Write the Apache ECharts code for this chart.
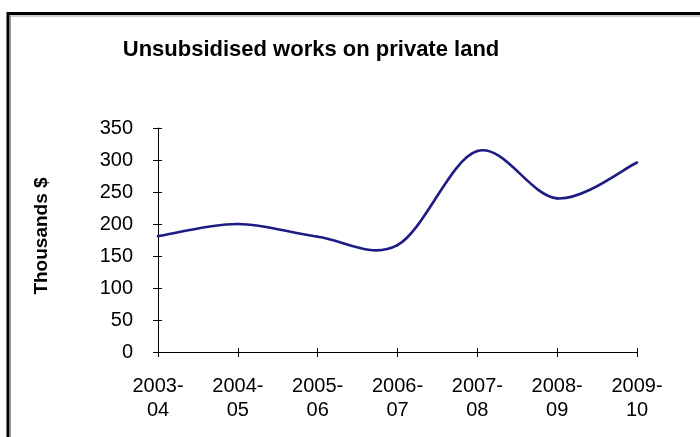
<!DOCTYPE html>
<html><head><meta charset="utf-8">
<script src="https://cdn.jsdelivr.net/npm/echarts@6/dist/echarts.min.js"></script>
<style>html,body{margin:0;padding:0;background:#fff}#c{width:700px;height:437px}</style>
</head><body><div id="c"></div>
<script>
var categories = ['2003-\n04','2004-\n05','2005-\n06','2006-\n07','2007-\n08','2008-\n09','2009-\n10'];
var values = [181, 200, 180, 167, 314, 240, 296];
var yTicks = {min:0, max:350, interval:50};

var chart = echarts.init(document.getElementById('c'));
var font = 'Liberation Sans, Arial, sans-serif';
var axisLine = {show:true, lineStyle:{color:'#000', width:1}};

// Excel-style (Catmull-Rom) smoothed segment between point i and i+1
function renderSeg(params, api) {
  var i = params.dataIndex;
  if (i >= values.length - 1) return null;
  var n = values.length;
  var p = function (j) { j = Math.max(0, Math.min(n - 1, j)); return api.coord([j, values[j]]); };
  var p0 = p(i - 1), p1 = p(i), p2 = p(i + 1), p3 = p(i + 2);
  var c1 = [p1[0] + (p2[0] - p0[0]) / 6, p1[1] + (p2[1] - p0[1]) / 6];
  var c2 = [p2[0] - (p3[0] - p1[0]) / 6, p2[1] - (p3[1] - p1[1]) / 6];
  return {type:'bezierCurve',
    shape:{x1:p1[0], y1:p1[1], cpx1:c1[0], cpy1:c1[1], cpx2:c2[0], cpy2:c2[1], x2:p2[0], y2:p2[1]},
    style:{stroke:'#1c1c84', lineWidth:2.6, fill:null, lineCap:'round'}};
}

chart.setOption({
  animation:false,
  backgroundColor:'#fff',
  graphic:[
    {type:'line', shape:{x1:7, y1:13.5, x2:700, y2:13.5}, style:{stroke:'#000', lineWidth:3}},
    {type:'line', shape:{x1:8, y1:16, x2:700, y2:16}, style:{stroke:'#999', lineWidth:1}},
    {type:'line', shape:{x1:8, y1:12, x2:8, y2:437}, style:{stroke:'#000', lineWidth:3}},
    {type:'line', shape:{x1:10.5, y1:16, x2:10.5, y2:437}, style:{stroke:'#999', lineWidth:1}},
    {type:'text', x:311, y:50, style:{text:'Unsubsidised works on private land', fontFamily:font, fontSize:22, fontWeight:'bold', fill:'#000', align:'center', verticalAlign:'middle'}},
    {type:'text', x:42, y:236, rotation:Math.PI/2, style:{text:'Thousands $', fontFamily:font, fontSize:19, fontWeight:'bold', fill:'#000', align:'center', verticalAlign:'middle'}}
  ],
  grid:{left:158, right:63, top:128, bottom:85},
  xAxis:[
    {type:'category', data:categories, boundaryGap:false,
     axisLine:axisLine, axisTick:{show:true, length:5, lineStyle:{color:'#000'}},
     axisLabel:{fontFamily:font, fontSize:20, color:'#000', margin:22, lineHeight:24},
     splitLine:{show:false}},
    {type:'category', data:categories, boundaryGap:false, position:'bottom',
     axisLine:{show:false}, axisTick:{show:true, inside:true, length:4, lineStyle:{color:'#000'}},
     axisLabel:{show:false}, splitLine:{show:false}}
  ],
  yAxis:[
    {type:'value', min:yTicks.min, max:yTicks.max, interval:yTicks.interval,
     axisLine:axisLine, axisTick:{show:true, length:5, lineStyle:{color:'#000'}},
     axisLabel:{fontFamily:font, fontSize:20, color:'#000', margin:25},
     splitLine:{show:false}},
    {type:'value', min:yTicks.min, max:yTicks.max, interval:yTicks.interval, position:'left',
     axisLine:{show:false}, axisTick:{show:true, inside:true, length:4, lineStyle:{color:'#000'}},
     axisLabel:{show:false}, splitLine:{show:false}}
  ],
  series:[{type:'custom', renderItem:renderSeg, clip:false,
    data:values.map(function (v, i) { return [i, v]; }),
    encode:{x:0, y:1}}]
});
</script></body></html>
